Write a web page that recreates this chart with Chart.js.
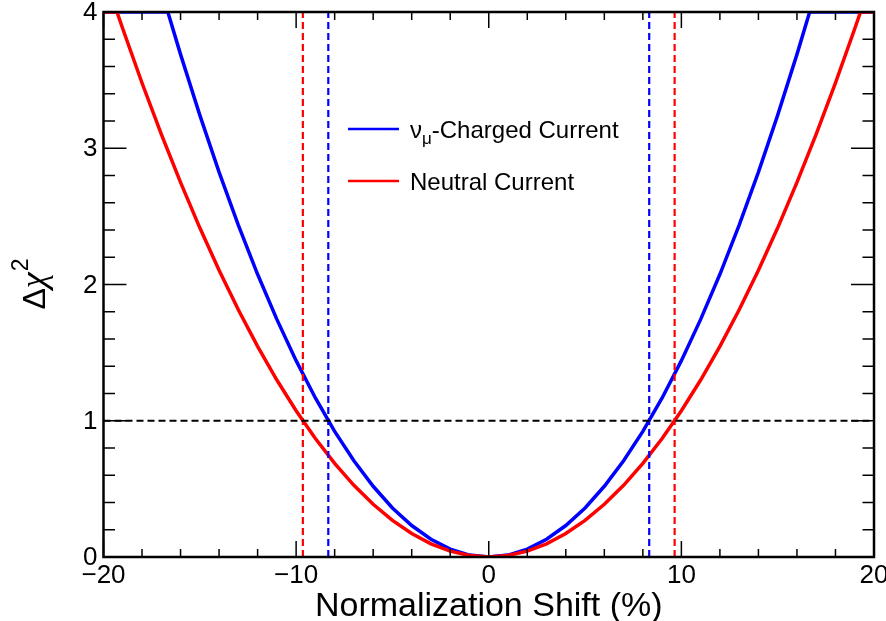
<!DOCTYPE html>
<html><head><meta charset="utf-8">
<script src="https://cdn.jsdelivr.net/npm/chart.js@4/dist/chart.umd.min.js"></script>
<style>html,body{margin:0;padding:0;background:#fff;} canvas{display:block;}</style>
</head><body>
<canvas id="c" width="886" height="621"></canvas>
<script>
// ---- data ----
const blueShift = [-20,-19,-18,-17,-16.66,-16,-15,-14,-13,-12,-11,-10,-9,-8,-7,-6,-5,-4,-3,-2,-1,0,1,2,3,4,5,6,7,8,9,10,11,12,13,14,15,16,16.66,17,18,19,20];
const blueChi2  = [4,4,4,4,4,3.689,3.243,2.825,2.436,2.075,1.744,1.441,1.167,0.922,0.706,0.519,0.360,0.231,0.130,0.058,0.014,0,0.014,0.058,0.130,0.231,0.360,0.519,0.706,0.922,1.167,1.441,1.744,2.075,2.436,2.825,3.243,3.689,4,4,4,4,4];
const redShift  = [-20,-19.3,-19,-18,-17,-16,-15,-14,-13,-12,-11,-10,-9,-8,-7,-6,-5,-4,-3,-2,-1,0,1,2,3,4,5,6,7,8,9,10,11,12,13,14,15,16,17,18,19,19.3,20];
const redChi2   = [4,4,3.877,3.479,3.104,2.749,2.416,2.105,1.815,1.546,1.299,1.074,0.870,0.687,0.526,0.387,0.269,0.172,0.097,0.043,0.011,0,0.011,0.043,0.097,0.172,0.269,0.387,0.526,0.687,0.870,1.074,1.299,1.546,1.815,2.105,2.416,2.749,3.104,3.479,3.877,4,4];
const blueLimits = [-8.33, 8.33];
const redLimits  = [-9.65, 9.65];
const refLevel = 1;
const seriesLabels = ['-Charged Current', 'Neutral Current'];
const xTickValues = [-20,-10,0,10,20];
const xTickLabels = ['\u221220','\u221210','0','10','20'];
const yTickValues = [0,1,2,3,4];
const yTickLabels = ['0','1','2','3','4'];
const xRange = [-20, 20];
const yRange = [0, 4];
const xTitle = 'Normalization Shift (%)';

const BLUE = '#0000ff', RED = '#ff0000';
const FONT = '"Liberation Sans", Arial, Helvetica, sans-serif';

function pts(xs, ys){ return xs.map((v,i)=>({x:v, y:ys[i]})); }
function vline(v){ return [{x:v,y:yRange[0]},{x:v,y:yRange[1]}]; }

const datasets = [
  {label: seriesLabels[0], data: pts(blueShift, blueChi2), borderColor: BLUE, borderWidth: 3.5, order: 4},
  {label: seriesLabels[1], data: pts(redShift, redChi2), borderColor: RED, borderWidth: 3.5, order: 3},
  {label:'bl1', data: vline(blueLimits[0]), borderColor: BLUE, borderWidth: 2.2, borderDash:[7,4], order: 2},
  {label:'bl2', data: vline(blueLimits[1]), borderColor: BLUE, borderWidth: 2.2, borderDash:[7,4], order: 2},
  {label:'rl1', data: vline(redLimits[0]), borderColor: RED, borderWidth: 2.2, borderDash:[7,4], order: 2},
  {label:'rl2', data: vline(redLimits[1]), borderColor: RED, borderWidth: 2.2, borderDash:[7,4], order: 2},
  {label:'ref', data: [{x:xRange[0],y:refLevel},{x:xRange[1],y:refLevel}], borderColor:'#000', borderWidth: 2.2, borderDash:[7,4], order: 1}
];
datasets.forEach(d=>{ d.pointRadius=0; d.tension=0; d.fill=false; });

const rootStyle = {
  id: 'rootStyle',
  afterDatasetsDraw(chart){
    const {ctx, chartArea:a, scales:{x, y}} = chart;
    ctx.save();
    ctx.strokeStyle = '#000';
    ctx.lineWidth = 1.5;
    const seg = (x1,y1,x2,y2)=>{ ctx.beginPath(); ctx.moveTo(x1,y1); ctx.lineTo(x2,y2); ctx.stroke(); };
    for (let i=0;i<=20;i++){
      const v = xRange[0] + i*2;
      const px = x.getPixelForValue(v);
      const L = (i%5===0) ? 16 : 8;
      seg(px, a.bottom, px, a.bottom-L);
      seg(px, a.top, px, a.top+L);
    }
    for (let i=0;i<=20;i++){
      const v = yRange[0] + i*0.2;
      const py = y.getPixelForValue(v);
      const L = (i%5===0) ? 23 : 11.5;
      seg(a.left, py, a.left+L, py);
      seg(a.right, py, a.right-L, py);
    }
    ctx.lineWidth = 2.5;
    ctx.strokeRect(a.left, a.top, a.right-a.left, a.bottom-a.top);

    // tick labels
    ctx.fillStyle = '#000';
    ctx.font = '26px ' + FONT;
    ctx.textAlign = 'center'; ctx.textBaseline = 'top';
    xTickValues.forEach((v,i)=>{ ctx.fillText(xTickLabels[i], x.getPixelForValue(v), a.bottom+6); });
    ctx.textAlign = 'right'; ctx.textBaseline = 'middle';
    yTickValues.forEach((v,i)=>{ ctx.fillText(yTickLabels[i], a.left-6, y.getPixelForValue(v)+1); });

    // x title
    ctx.font = '34px ' + FONT;
    ctx.textAlign = 'center'; ctx.textBaseline = 'alphabetic';
    ctx.fillText(xTitle, (a.left+a.right)/2, 616);

    // y title  Δχ^2
    ctx.save();
    ctx.translate(45, (a.top+a.bottom)/2);
    ctx.rotate(-Math.PI/2);
    ctx.textAlign = 'left';
    ctx.font = '32px ' + FONT;
    const wD = ctx.measureText('\u0394').width;
    ctx.font = 'italic 36px "Liberation Serif", serif';
    const wC = ctx.measureText('\u03c7').width;
    ctx.font = '23px ' + FONT;
    const w2 = ctx.measureText('2').width;
    const x0 = -(wD+wC+w2)/2;
    ctx.font = '32px ' + FONT;
    ctx.fillText('\u0394', x0, 0);
    ctx.font = 'italic 36px "Liberation Serif", serif';
    ctx.fillText('\u03c7', x0+wD, 0);
    ctx.font = '23px ' + FONT;
    ctx.fillText('2', x0+wD+wC+1, -17);
    ctx.restore();

    // legend
    const items = [{c:BLUE, y:129}, {c:RED, y:181}];
    items.forEach(it=>{ ctx.strokeStyle=it.c; ctx.lineWidth=2.5; seg(348, it.y, 399, it.y); });
    ctx.fillStyle = '#000';
    ctx.textAlign = 'left'; ctx.textBaseline = 'alphabetic';
    ctx.font = '24px ' + FONT;
    ctx.fillText('\u03bd', 410, 138);
    const wn = ctx.measureText('\u03bd').width;
    ctx.font = '17px ' + FONT;
    ctx.fillText('\u03bc', 410+wn, 144);
    const wm = ctx.measureText('\u03bc').width;
    ctx.font = '24px ' + FONT;
    ctx.fillText(seriesLabels[0], 410+wn+wm, 138);
    ctx.fillText(seriesLabels[1], 410, 190);
    ctx.restore();
  }
};

new Chart(document.getElementById('c'), {
  type: 'line',
  data: { datasets },
  options: {
    responsive: false, animation: false, devicePixelRatio: 1,
    layout: { padding: {left: 103.5, right: 12, top: 12, bottom: 64} },
    plugins: { legend: {display:false}, tooltip: {enabled:false} },
    scales: {
      x: { type:'linear', min:xRange[0], max:xRange[1], display:false },
      y: { type:'linear', min:yRange[0], max:yRange[1], display:false }
    }
  },
  plugins: [rootStyle]
});
</script>
</body></html>
